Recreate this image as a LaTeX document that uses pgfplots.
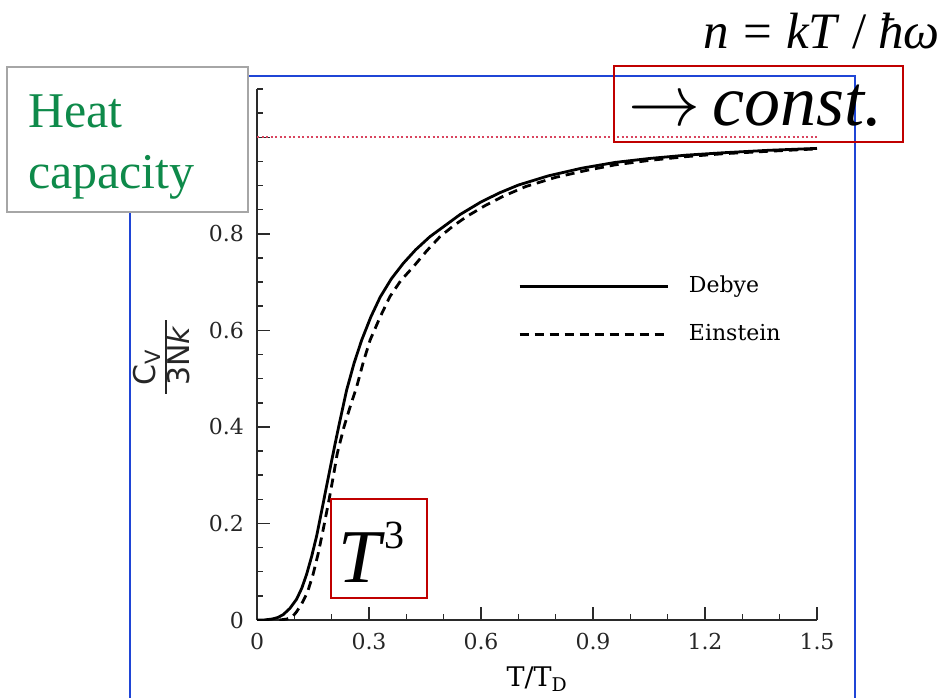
\RequirePackage{fix-cm}
\documentclass[border=0pt]{standalone}
\usepackage{fontspec}
\setmainfont{Liberation Serif}[ItalicFont={Liberation Serif Italic}]
\setsansfont{DejaVu Sans}
\newfontfamily\dvs{DejaVu Serif}
\usepackage{graphicx}
\usepackage{pgfplots}
\pgfplotsset{compat=1.18}
\definecolor{frameblue}{HTML}{1F45D6}
\definecolor{boxred}{HTML}{C00000}
\definecolor{boxgray}{HTML}{A6A6A6}
\definecolor{heatgreen}{HTML}{0E8A4A}
\definecolor{refline}{HTML}{D9455F}
\definecolor{axisink}{HTML}{2A2A2A}

\begin{document}
\begin{tikzpicture}
\useasboundingbox (0pt,0pt) rectangle (943pt,-697pt);
\clip (0pt,0pt) rectangle (943pt,-697pt);
% slide frame behind the plot
\draw[frameblue,line width=2.2pt] (130pt,-705pt) -- (130pt,-76pt) -- (855pt,-76pt) -- (855pt,-705pt);

\begin{axis}[
  at={(257pt,-620pt)}, anchor=south west,
  scale only axis, width=560pt, height=531pt,
  xmin=0, xmax=1.5, ymin=0, ymax=1.1,
  axis lines=left, axis line style={-,axisink,line width=1.6pt},
  tick align=inside,
  major tick length=13pt, minor tick length=6pt,
  every tick/.style={axisink,line width=1.5pt},
  xtick={0,0.3,0.6,0.9,1.2,1.5},
  xticklabels={0,0.3,0.6,0.9,1.2,1.5},
  minor xtick={0.1,0.2,0.4,0.5,0.7,0.8,1.0,1.1,1.3,1.4},
  ytick={0,0.2,0.4,0.6,0.8,1.0},
  yticklabels={0,0.2,0.4,0.6,0.8,{}},
  minor ytick={0.05,0.1,0.15,0.25,0.3,0.35,0.45,0.5,0.55,0.65,0.7,0.75,0.85,0.9,0.95,1.05,1.1},
  tick label style={font={\fontsize{22}{24}\selectfont\dvs}, inner sep=0pt, text=black!85},
  xticklabel style={yshift=-13pt},
  yticklabel style={xshift=-13pt},
  xlabel={T/T\textsubscript{D}},
  xlabel style={font={\fontsize{27}{28}\selectfont\dvs}, at={(axis description cs:0.5,-0.126)}, anchor=base},
  ylabel={\setlength{\arrayrulewidth}{1.8pt}\begin{tabular}{@{\hspace{8pt}}l@{\hspace{6pt}}}C\textsubscript{V}\\\hline 3N\textit{k}\end{tabular}},
  ylabel style={font={\sffamily\fontsize{30}{32}\selectfont}, text=black!85, inner sep=0pt, at={(axis description cs:-0.1625,0.496)}, anchor=center},
  legend style={draw=none, fill=none, inner sep=0pt, at={(axis description cs:0.466,0.648)}, anchor=north west,
    font={\fontsize{22}{24}\selectfont\dvs}, row sep=27pt, column sep=20pt,
    nodes={inner sep=0pt, text height=16pt, text depth=5pt}},
  legend cell align=left,
  legend image code/.code={\draw[#1] (0pt,0pt) -- (148pt,0pt);},
]
% saturation level
\addplot[refline, line width=1.8pt, dash pattern=on 2pt off 2.5pt, forget plot] coordinates {(0,1) (1.5,1)};
% Debye
\addplot[black, line width=2.8pt] coordinates {
(0,0) (0.02,0.0002) (0.04,0.002) (0.055,0.005) (0.07,0.011) (0.088,0.024)
(0.106,0.043) (0.12,0.066) (0.133,0.095) (0.1465,0.132) (0.16,0.175) (0.173,0.225)
(0.187,0.28) (0.2,0.33) (0.21,0.368) (0.22,0.405) (0.24,0.476) (0.26,0.532)
(0.28,0.579) (0.305,0.628) (0.33,0.669) (0.36,0.707) (0.392,0.739) (0.425,0.767)
(0.463,0.794) (0.50,0.815) (0.544,0.840) (0.60,0.866) (0.65,0.885) (0.70,0.901)
(0.78,0.920) (0.87,0.936) (0.96,0.948) (1.05,0.956) (1.15,0.963) (1.25,0.968)
(1.37,0.973) (1.5,0.977)};
\addlegendentry{Debye}
% Einstein
\addplot[black, line width=2.8pt, dash pattern=on 9pt off 6pt] coordinates {
(0.06,0) (0.08,0.002) (0.094,0.006) (0.106,0.017) (0.12,0.034) (0.135,0.057)
(0.15,0.094) (0.164,0.138) (0.178,0.19) (0.193,0.249) (0.205,0.30) (0.215,0.345)
(0.233,0.40) (0.25,0.443) (0.267,0.483) (0.285,0.535) (0.303,0.580) (0.33,0.628)
(0.356,0.670) (0.385,0.703) (0.419,0.732) (0.455,0.765) (0.490,0.794) (0.525,0.816)
(0.562,0.836) (0.61,0.858) (0.66,0.878) (0.72,0.898) (0.80,0.917) (0.88,0.931)
(0.96,0.943) (1.05,0.952) (1.15,0.960) (1.25,0.966) (1.37,0.971) (1.5,0.976)};
\addlegendentry{Einstein}
\end{axis}

% slide annotations
\draw[boxgray, line width=2.4pt, fill=white] (7pt,-67pt) rectangle (248pt,-212pt);
\node[anchor=base west, inner sep=0pt, text=heatgreen, font=\fontsize{50}{60}\selectfont] at (28pt,-127pt) {Heat};
\node[anchor=base west, inner sep=0pt, text=heatgreen, font=\fontsize{50}{60}\selectfont] at (28pt,-188pt) {capacity};

\node[anchor=base east, inner sep=0pt, font=\fontsize{51}{53}\selectfont] at (940pt,-48pt) {\textit{n}\hspace{14pt}=\hspace{14pt}\textit{kT}\hspace{12pt}/\hspace{12pt}\textit{ħω}};

\draw[boxred, line width=2pt] (614pt,-66pt) rectangle (903pt,-142pt);
\node[anchor=base west, inner sep=0pt, font=\fontsize{74}{76}\selectfont] at (628pt,-125pt) {\fontsize{72}{74}\selectfont$\rightarrow$\hspace{12pt}\textit{const.}};

\draw[boxred, line width=2pt, fill=white] (331pt,-499pt) rectangle (427pt,-598pt);
\node[anchor=base west, inner sep=0pt, font=\fontsize{76}{78}\selectfont] at (338pt,-582pt) {\textit{T}\raisebox{34pt}{\fontsize{40}{40}\selectfont 3}};
\end{tikzpicture}
\end{document}
